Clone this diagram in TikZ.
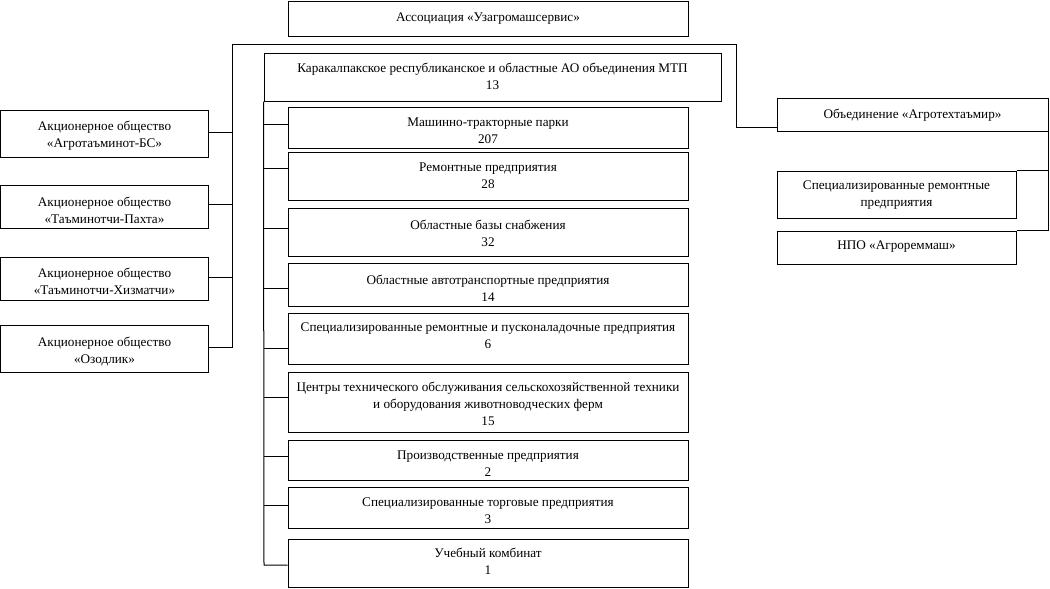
\documentclass[tikz,border=0pt]{standalone}
\usepackage{fontspec}
\setmainfont{Liberation Serif}
\begin{document}
\begin{tikzpicture}[x=1pt,y=-1pt,
  box/.style={draw, line width=1pt, rectangle, inner sep=0pt, align=center,
    font=\fontsize{13.2}{17}\selectfont},
  th/.style={text depth=0pt, text height=#1},
  link/.style={draw, line width=1pt}]
\useasboundingbox (0,0) rectangle (1050,589);
% top
\node[box, th=5pt, minimum width=400, minimum height=35] (top) at (488,18.5) {Ассоциация «Узагромашсервис»};
\node[box, th=24pt, minimum width=457, minimum height=48] (kk) at (492.5,77) {Каракалпакское республиканское и областные АО объединения МТП\\13};
% inner column
\node[box, th=31pt, minimum width=400, minimum height=41] (m1) at (488,127.5) {Машинно-тракторные парки\\207};
\node[box, th=24pt, minimum width=400, minimum height=48] (m2) at (488,176) {Ремонтные предприятия\\28};
\node[box, th=28pt, minimum width=400, minimum height=48] (m3) at (488,232) {Областные базы снабжения\\32};
\node[box, th=33pt, minimum width=400, minimum height=43] (m4) at (488,284.5) {Областные автотранспортные предприятия\\14};
\node[box, th=19pt, minimum width=400, minimum height=51] (m5) at (488,338.5) {Специализированные ремонтные и пусконаладочные предприятия\\6};
\node[box, th=46pt, minimum width=400, minimum height=60] (m6) at (488,402) {Центры технического обслуживания сельскохозяйственной техники\\и оборудования животноводческих ферм\\15};
\node[box, th=32pt, minimum width=400, minimum height=40] (m7) at (488,460) {Производственные предприятия\\2};
\node[box, th=31pt, minimum width=400, minimum height=41] (m8) at (488,507.5) {Специализированные торговые предприятия\\3};
\node[box, th=22pt, minimum width=400, minimum height=48] (m9) at (488,563) {Учебный комбинат\\1};
% left column
\node[box, th=27pt, minimum width=208, minimum height=47] (l1) at (104.5,133.5) {Акционерное общество\\«Агротаъминот-БС»};
\node[box, th=33pt, minimum width=208, minimum height=43] (l2) at (104.5,206.5) {Акционерное общество\\«Таъминотчи-Пахта»};
\node[box, th=31pt, minimum width=208, minimum height=43] (l3) at (104.5,278.5) {Акционерное общество\\«Таъминотчи-Хизматчи»};
\node[box, th=29pt, minimum width=208, minimum height=47] (l4) at (104.5,348.5) {Акционерное общество\\«Озодлик»};
% right column
\node[box, th=7pt, minimum width=271, minimum height=33] (r1) at (912.5,114.5) {Объединение «Агротехтаъмир»};
\node[box, th=23pt, minimum width=239, minimum height=47] (r2) at (896.5,194.5) {Специализированные ремонтные\\предприятия};
\node[box, th=3pt, minimum width=239, minimum height=33] (r3) at (896.5,247.5) {НПО «Агрореммаш»};
% bus coordinates
\coordinate (busL) at (232,44);
\coordinate (busR) at (736,44);
\coordinate (busK) at (264,565);
% outer bus
\draw[link] (l4.east |- {(0,347)}) -- (busL |- {(0,347)}) -- (busL) -- (busR) -- (busR |- {(0,127)}) -- (r1.west |- {(0,127)});
\draw[link] (l1.east |- {(0,132)}) -- (busL |- {(0,132)});
\draw[link] (l2.east |- {(0,204)}) -- (busL |- {(0,204)});
\draw[link] (l3.east |- {(0,277)}) -- (busL |- {(0,277)});
% inner bus
\draw[link] (kk.south west) -- (busK) -- (m9.west |- busK);
\foreach \n/\yy in {m1/124, m2/168, m3/228, m4/288, m5/348, m6/397, m7/456, m8/505}
  \draw[link] (busK |- {(0,\yy)}) -- (\n.west |- {(0,\yy)});
% right bracket
\draw[link] (r1.south east) -- (r1.south east |- r3.north) -- (r3.north east);
\draw[link] (r2.north east) -- (r2.north east -| r1.east);
\end{tikzpicture}
\end{document}
